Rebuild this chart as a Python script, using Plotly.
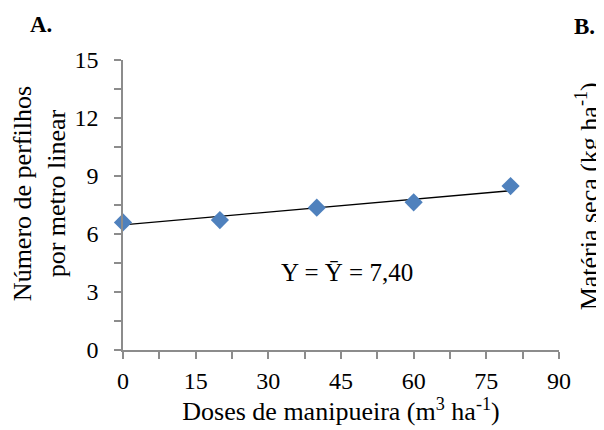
import plotly.graph_objects as go

doses = [0, 20, 40, 60, 80]
perfilhos = [6.6, 6.72, 7.36, 7.64, 8.48]
trend_x = [0, 80]
trend_y = [6.47, 8.24]
x_ticks = [0, 15, 30, 45, 60, 75, 90]
y_ticks = [0, 3, 6, 9, 12, 15]

FONT = "Liberation Serif, Times New Roman, serif"
AX = "#8c8c8c"

fig = go.Figure()
fig.add_trace(go.Scatter(x=trend_x, y=trend_y, mode="lines",
                         line=dict(color="black", width=1.3), showlegend=False))
fig.add_trace(go.Scatter(x=doses, y=perfilhos, mode="markers",
                         marker=dict(symbol="diamond", size=14, color="#4F81BD"),
                         showlegend=False, cliponaxis=False))

fig.update_layout(
    width=596, height=422,
    margin=dict(l=115, r=45, t=52, b=80),
    paper_bgcolor="white", plot_bgcolor="white",
    font=dict(family=FONT, size=24, color="black"),
    xaxis=dict(range=[0, 90], tickvals=x_ticks, showgrid=False, zeroline=False,
               showline=True, linecolor=AX, linewidth=1.5,
               ticks="outside", ticklen=7, tickcolor=AX, tickwidth=1.5,
               minor=dict(dtick=7.5, tick0=0, ticks="outside", ticklen=7, tickcolor=AX, tickwidth=1.5),
               tickfont=dict(size=24, family=FONT), ticklabelstandoff=1,
               title=dict(text="Doses de manipueira (m<sup>3</sup> ha<sup>-1</sup>)", standoff=4,
                          font=dict(size=26, family=FONT))),
    yaxis=dict(range=[0, 15], tickvals=y_ticks, showgrid=False, zeroline=False,
               showline=True, linecolor=AX, linewidth=1.5,
               ticks="outside", ticklen=7, tickcolor=AX, tickwidth=1.5,
               minor=dict(dtick=1.5, tick0=0, ticks="outside", ticklen=7, tickcolor=AX, tickwidth=1.5),
               tickfont=dict(size=24, family=FONT), ticklabelstandoff=11),
)

fig.add_annotation(text="Número de perfilhos<br>por metro linear", textangle=-90,
                   xref="paper", yref="paper", x=-0.19, y=0.538, showarrow=False,
                   font=dict(size=26, family=FONT), align="center", yanchor="middle", xanchor="center")
fig.add_annotation(text="Y = Ȳ = 7,40", x=46.2, y=4.0, xref="x", yref="y", showarrow=False,
                   font=dict(size=25, family=FONT))
fig.add_annotation(text="<b>A.</b>", xref="paper", yref="paper", x=-0.188, y=1.121,
                   showarrow=False, font=dict(size=23, family=FONT), xanchor="center", yanchor="middle")
fig.add_annotation(text="<b>B.</b>", xref="paper", yref="paper", x=1.059, y=1.117,
                   showarrow=False, font=dict(size=23, family=FONT), xanchor="center", yanchor="middle")
fig.add_annotation(text="Matéria seca (kg ha<sup>-1</sup>)", textangle=-90,
                   xref="paper", yref="paper", x=1.066, y=0.529, showarrow=False,
                   font=dict(size=26, family=FONT), xanchor="center", yanchor="middle")

fig.write_html("out.html")
